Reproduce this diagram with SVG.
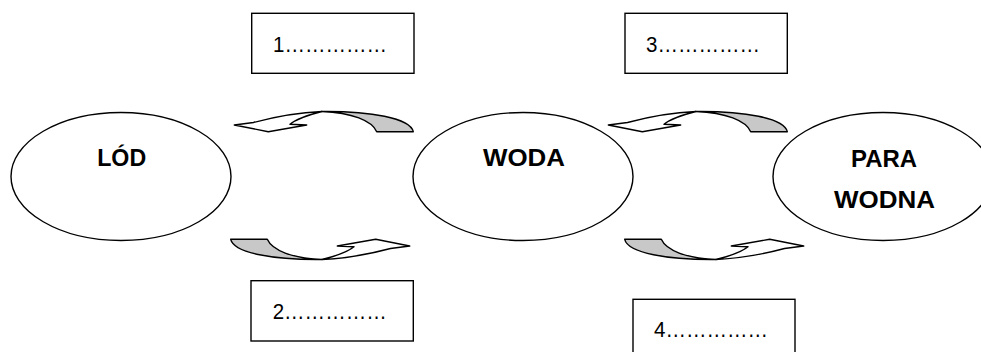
<svg xmlns="http://www.w3.org/2000/svg" xmlns:xlink="http://www.w3.org/1999/xlink" width="981" height="352" viewBox="0 0 981 352">
  <style>
    .state { fill: #ffffff; stroke: #000000; stroke-width: 1.4; }
    .box { fill: #ffffff; stroke: #000000; stroke-width: 1.4; }
    .title { font-family: "Liberation Sans", Arial, sans-serif; font-weight: bold; font-size: 23px; fill: #000000; text-anchor: middle; }
    .blank { font-family: "Liberation Sans", Arial, sans-serif; font-size: 22px; fill: #000000; }
    .front { fill: #ffffff; stroke: #000000; stroke-width: 1.4; stroke-linejoin: round; }
    .back { fill: #c8c8c8; stroke: #000000; stroke-width: 1.4; stroke-linejoin: round; }
  </style>
  <defs>
    <g id="curved">
      <path class="front" d="M 234.3,125 L 253.5,122.5 C 274,117 298,112.5 322,111.5 C 314,113.5 297,118.5 290,124.2 L 306.7,125 L 268.3,131.7 Z"/>
      <path class="back" d="M 376.7,131.7 C 372,121 352,112.5 322,111.5 C 370,111 410,118 413.3,131.7 Z"/>
    </g>
  </defs>

  <g id="connectors">
    <use id="arrow1" xlink:href="#curved" href="#curved"/>
    <use id="arrow3" xlink:href="#curved" href="#curved" transform="translate(374,0)"/>
    <use id="arrow2" xlink:href="#curved" href="#curved" transform="rotate(180,322,185.5)"/>
    <use id="arrow4" xlink:href="#curved" href="#curved" transform="translate(394,0) rotate(180,322,185.5)"/>
  </g>

  <g id="node-lod">
    <ellipse class="state" cx="121" cy="176.5" rx="110" ry="64"/>
    <text class="title" x="121.7" y="166" textLength="49" lengthAdjust="spacingAndGlyphs">LÓD</text>
  </g>
  <g id="node-woda">
    <ellipse class="state" cx="523" cy="176.5" rx="110" ry="64"/>
    <text class="title" x="524" y="166" textLength="82" lengthAdjust="spacingAndGlyphs">WODA</text>
  </g>
  <g id="node-para">
    <ellipse class="state" cx="883" cy="176.5" rx="110" ry="64"/>
    <text class="title" x="884" y="166.5" textLength="66" lengthAdjust="spacingAndGlyphs">PARA</text>
    <text class="title" x="884.5" y="208" textLength="101" lengthAdjust="spacingAndGlyphs">WODNA</text>
  </g>

  <g id="box1">
    <rect class="box" x="251.7" y="13.3" width="162.3" height="60"/>
    <text class="blank" x="273" y="52.3" textLength="114" lengthAdjust="spacingAndGlyphs">1……………</text>
  </g>
  <g id="box2">
    <rect class="box" x="251" y="280.7" width="162.3" height="60.3"/>
    <text class="blank" x="272.7" y="319" textLength="114" lengthAdjust="spacingAndGlyphs">2……………</text>
  </g>
  <g id="box3">
    <rect class="box" x="625" y="13.3" width="162.3" height="60"/>
    <text class="blank" x="646" y="52.3" textLength="114" lengthAdjust="spacingAndGlyphs">3……………</text>
  </g>
  <g id="box4">
    <rect class="box" x="633" y="299.3" width="162" height="60"/>
    <text class="blank" x="654" y="336.7" textLength="114" lengthAdjust="spacingAndGlyphs">4……………</text>
  </g>
</svg>
